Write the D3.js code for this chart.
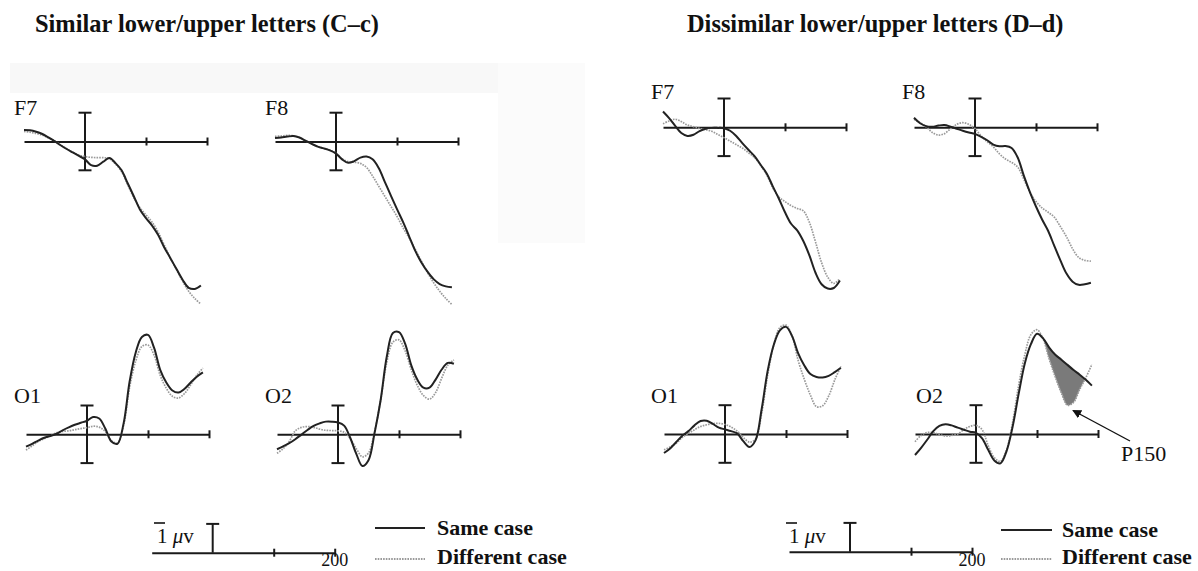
<!DOCTYPE html>
<html><head><meta charset="utf-8">
<script src="https://cdn.jsdelivr.net/npm/d3@7"></script>
<style>body{margin:0;background:#fff}svg{display:block}</style>
</head><body><svg id="c" width="1198" height="571"></svg>
<script>
// ---------------- DATA ----------------
const times = [-100,-90,-80,-70,-60,-50,-40,-30,-20,-10,0,10,20,30,40,50,60,70,80,90,100,110,120,130,140,150,160,170,180,190];
const titles = ["Similar lower/upper letters (C\u2013c)", "Dissimilar lower/upper letters (D\u2013d)"];
const channels = ["F7","F8","O1","O2"];
const legendLabels = ["Same case","Different case"];
const scaleBarNumber = "1";
const scaleBarUnit = ["\u03bc","v"];
const scaleTickValues = [100, 200];
const scaleEndLabel = "200";
const componentLabel = "P150";

// amplitudes in microvolts (negative plotted up)
const simF7Same = [-0.40,-0.39,-0.34,-0.26,-0.14,-0.01,0.13,0.26,0.38,0.50,0.62,0.82,0.84,0.70,0.57,0.75,1.0,1.45,1.90,2.36,2.66,2.92,3.25,3.68,4.05,4.43,4.80,5.08,5.12,5.0];
const simF7Diff = [-0.35,-0.32,-0.28,-0.22,-0.12,-0.02,0.12,0.25,0.38,0.47,0.52,0.55,0.56,0.56,0.60,0.78,1.05,1.50,1.95,2.30,2.55,2.80,3.15,3.60,4.05,4.45,4.85,5.20,5.45,5.65];
const simF8Same = [-0.12,-0.14,-0.17,-0.19,-0.14,-0.03,0.08,0.18,0.24,0.31,0.42,0.62,0.74,0.68,0.56,0.52,0.62,0.92,1.40,1.88,2.35,2.80,3.30,3.80,4.20,4.52,4.78,4.95,5.03,5.06];
const simF8Diff = [-0.18,-0.19,-0.21,-0.20,-0.14,-0.03,0.08,0.18,0.24,0.30,0.40,0.60,0.70,0.72,0.76,0.90,1.20,1.55,1.90,2.25,2.60,3.0,3.35,3.75,4.15,4.55,4.90,5.20,5.45,5.66];
const simO1Same = [0.43,0.33,0.22,0.12,0.06,-0.02,-0.14,-0.24,-0.33,-0.40,-0.47,-0.60,-0.55,-0.20,0.25,0.33,-0.38,-1.85,-2.85,-3.38,-3.45,-3.0,-2.24,-1.80,-1.52,-1.45,-1.58,-1.80,-2.0,-2.15];
const simO1Diff = [0.55,0.40,0.25,0.15,0.05,-0.05,-0.10,-0.12,-0.16,-0.20,-0.23,-0.28,-0.25,-0.10,0.22,0.30,-0.30,-1.65,-2.55,-3.05,-3.10,-2.75,-2.05,-1.60,-1.32,-1.26,-1.42,-1.72,-2.05,-2.30];
const simO2Same = [0.52,0.42,0.31,0.17,0.01,-0.15,-0.29,-0.38,-0.44,-0.44,-0.41,-0.30,0.12,0.68,1.10,0.90,-0.05,-1.20,-2.70,-3.52,-3.55,-3.15,-2.40,-1.90,-1.62,-1.62,-1.90,-2.25,-2.48,-2.45];
const simO2Diff = [0.66,0.50,0.25,-0.12,-0.24,-0.27,-0.24,-0.18,-0.14,-0.13,-0.12,-0.07,0.15,0.50,0.78,0.65,-0.10,-1.20,-2.50,-3.20,-3.28,-2.90,-2.25,-1.70,-1.35,-1.22,-1.45,-1.95,-2.40,-2.58];
const disF7Same = [-0.55,-0.32,-0.05,0.20,0.30,0.26,0.13,0.05,0.02,0.02,0.03,0.12,0.30,0.55,0.78,1.0,1.30,1.60,2.05,2.48,2.95,3.35,3.58,3.95,4.45,5.05,5.45,5.60,5.58,5.32];
const disF7Diff = [-0.12,-0.22,-0.28,-0.20,-0.08,-0.02,0.04,0.08,0.14,0.25,0.36,0.48,0.60,0.72,0.88,1.05,1.32,1.65,2.10,2.42,2.58,2.72,2.82,2.90,3.30,3.98,4.70,5.20,5.42,5.25];
const disF8Same = [-0.33,-0.14,-0.04,-0.02,-0.06,-0.08,-0.02,0.05,0.12,0.18,0.23,0.33,0.45,0.60,0.66,0.65,0.72,1.05,1.68,2.25,2.75,3.20,3.60,4.12,4.62,5.08,5.36,5.47,5.45,5.40];
const disF8Diff = [-0.28,-0.16,-0.02,0.18,0.27,0.22,0.05,-0.10,-0.16,-0.10,0.05,0.30,0.50,0.68,0.92,1.10,1.22,1.38,1.80,2.25,2.58,2.80,2.95,3.12,3.45,3.80,4.22,4.52,4.62,4.65];
const disO1Same = [0.66,0.50,0.28,0.06,-0.10,-0.30,-0.45,-0.46,-0.35,-0.22,-0.16,-0.10,-0.02,0.25,0.45,0.22,-0.85,-2.20,-3.10,-3.60,-3.72,-3.40,-2.80,-2.38,-2.08,-1.98,-1.96,-2.02,-2.15,-2.30];
const disO1Diff = [0.55,0.45,0.32,0.12,-0.02,-0.15,-0.26,-0.32,-0.36,-0.37,-0.33,-0.24,-0.10,0.12,0.28,0.18,-0.70,-2.05,-3.10,-3.70,-3.78,-3.40,-2.55,-1.90,-1.35,-0.95,-0.98,-1.32,-1.88,-2.35];
const disO2Same = [0.73,0.48,0.20,-0.10,-0.28,-0.34,-0.30,-0.22,-0.15,-0.08,-0.04,0.15,0.55,0.92,1.02,0.60,-0.25,-1.40,-2.45,-3.12,-3.48,-3.32,-3.00,-2.75,-2.58,-2.40,-2.22,-2.06,-1.88,-1.68];
const disO2Diff = [0.27,0.05,-0.05,-0.05,0.02,0.07,0.05,0.0,-0.15,-0.26,-0.30,-0.15,0.40,0.82,0.95,0.55,-0.40,-1.70,-2.75,-3.45,-3.62,-3.30,-2.60,-1.98,-1.42,-1.00,-1.10,-1.55,-1.95,-2.42];
const shadeRange = [105, 177];

// ---------------- LAYOUT ----------------
const PX100 = 61, PXUV = 28.8;
const serif = "'Liberation Serif','Times New Roman',serif";
const panels = [
  {ch:0, same:simF7Same, diff:simF7Diff, x0:85,  y0:141.5, lx:14,  ly:115},
  {ch:1, same:simF8Same, diff:simF8Diff, x0:336, y0:141.5, lx:265, ly:115},
  {ch:2, same:simO1Same, diff:simO1Diff, x0:87,  y0:434.3, lx:14,  ly:402.7},
  {ch:3, same:simO2Same, diff:simO2Diff, x0:338, y0:434.3, lx:265, ly:402.7},
  {ch:0, same:disF7Same, diff:disF7Diff, x0:724, y0:127.3, lx:651, ly:99.3},
  {ch:1, same:disF8Same, diff:disF8Diff, x0:975, y0:127.3, lx:902, ly:99.3},
  {ch:2, same:disO1Same, diff:disO1Diff, x0:725, y0:434,   lx:651, ly:402.7},
  {ch:3, same:disO2Same, diff:disO2Diff, x0:976, y0:434,   lx:916, ly:402.7, shade:true}
];

const svg = d3.select("#c");
// faint scan background
svg.append("rect").attr("x",10).attr("y",63).attr("width",575).attr("height",30).attr("fill","#f8f8f8");
svg.append("rect").attr("x",498).attr("y",63).attr("width",87).attr("height",180).attr("fill","#fbfbfb");

// titles
svg.append("text").attr("x",35).attr("y",32).text(titles[0])
  .attr("font-family",serif).attr("font-weight","bold").attr("font-size",24.4).attr("fill","#111");
svg.append("text").attr("x",687).attr("y",32).text(titles[1])
  .attr("font-family",serif).attr("font-weight","bold").attr("font-size",24.4).attr("fill","#111");

function hAxis(g, x, y0){
  const ax = g.append("g").attr("transform",`translate(0,${y0})`)
    .call(d3.axisBottom(x).tickValues(scaleTickValues).tickSizeOuter(0).tickSize(0).tickFormat(""));
  ax.select(".domain").attr("stroke","#1a1a1a").attr("stroke-width",2);
  ax.selectAll(".tick line").attr("y1",-4).attr("y2",4).attr("stroke","#1a1a1a").attr("stroke-width",2);
  return ax;
}

panels.forEach(p=>{
  const g = svg.append("g");
  const x = d3.scaleLinear().domain([-100,200]).range([p.x0-PX100, p.x0+2*PX100]);
  const y = d3.scaleLinear().domain([-1,1]).range([p.y0-PXUV, p.y0+PXUV]);
  const line = d3.line().x((d,i)=>x(times[i])).y(d=>y(d)).curve(d3.curveCatmullRom.alpha(0.5));

  if(p.shade){
    const idx = times.map((t,i)=>i).filter(i=>times[i]>=90 && times[i]<=190);
    const area = d3.area().x(i=>x(times[i])).y0(i=>y(p.same[i])).y1(i=>y(p.diff[i])).curve(d3.curveCatmullRom.alpha(0.5));
    svg.append("clipPath").attr("id","shclip").append("rect")
      .attr("x",x(shadeRange[0])).attr("y",0).attr("width",x(shadeRange[1])-x(shadeRange[0])).attr("height",571);
    g.append("path").attr("d",area(idx)).attr("fill","#7a7a7a").attr("clip-path","url(#shclip)");
  }

  hAxis(g, x, p.y0);
  g.append("line").attr("x1",x(0)).attr("x2",x(0)).attr("y1",y(-1)).attr("y2",y(1)).attr("stroke","#1a1a1a").attr("stroke-width",2);
  [-1,1].forEach(v=>g.append("line").attr("x1",x(0)-6.5).attr("x2",x(0)+6.5).attr("y1",y(v)).attr("y2",y(v)).attr("stroke","#1a1a1a").attr("stroke-width",2));

  g.append("path").attr("d",line(p.diff)).attr("fill","none").attr("stroke","#9a9a9a").attr("stroke-width",1.7).attr("stroke-dasharray","1.6,1.1");
  g.append("path").attr("d",line(p.same)).attr("fill","none").attr("stroke","#222").attr("stroke-width",2);

  g.append("text").attr("x",p.lx).attr("y",p.ly).text(channels[p.ch])
    .attr("font-family",serif).attr("font-size",22).attr("fill","#111");
});

// P150 annotation
svg.append("defs").append("marker").attr("id","ah").attr("viewBox","0 0 10 10").attr("refX",9).attr("refY",5)
  .attr("markerWidth",9).attr("markerHeight",9).attr("orient","auto-start-reverse").attr("markerUnits","userSpaceOnUse")
  .append("path").attr("d","M0,0L10,5L0,10z").attr("fill","#111");
svg.append("line").attr("x1",1130).attr("y1",441).attr("x2",1073).attr("y2",410.5)
  .attr("stroke","#111").attr("stroke-width",1.4).attr("marker-end","url(#ah)");
svg.append("text").attr("x",1121).attr("y",461).text(componentLabel)
  .attr("font-family",serif).attr("font-size",22).attr("fill","#111");

// scale bars + legends
const legends = [
  {x0:212.7, y0:552.7, tx:157, lineX:[375,425], ySame:528, yDiff:559, textX:437},
  {x0:850,   y0:551.7, tx:789, lineX:[1001,1052], ySame:530, yDiff:559, textX:1062}
];
legends.forEach(L=>{
  const g = svg.append("g");
  const x = d3.scaleLinear().domain([-100,200]).range([L.x0-PX100, L.x0+2*PX100]);
  const y = d3.scaleLinear().domain([-1,1]).range([L.y0-PXUV, L.y0+PXUV]);
  hAxis(g, x, L.y0);
  g.append("line").attr("x1",x(0)).attr("x2",x(0)).attr("y1",y(-1)).attr("y2",y(0)).attr("stroke","#1a1a1a").attr("stroke-width",2);
  g.append("line").attr("x1",x(0)-6.5).attr("x2",x(0)+6.5).attr("y1",y(-1)).attr("y2",y(-1)).attr("stroke","#1a1a1a").attr("stroke-width",2);
  const t = g.append("text").attr("x",L.tx).attr("y",543)
    .attr("font-family",serif).attr("font-size",21).attr("fill","#111");
  t.append("tspan").text(scaleBarNumber + " ");
  t.append("tspan").attr("font-style","italic").text(scaleBarUnit[0]);
  t.append("tspan").text(scaleBarUnit[1]);
  g.append("line").attr("x1",L.tx-3).attr("x2",L.tx+8).attr("y1",523).attr("y2",523).attr("stroke","#111").attr("stroke-width",1.6);
  g.append("text").attr("x",x(200)).attr("y",566).attr("text-anchor","middle").text(scaleEndLabel)
    .attr("font-family",serif).attr("font-size",18).attr("fill","#111");
  g.append("line").attr("x1",L.lineX[0]).attr("x2",L.lineX[1]).attr("y1",L.ySame).attr("y2",L.ySame).attr("stroke","#222").attr("stroke-width",2);
  g.append("line").attr("x1",L.lineX[0]).attr("x2",L.lineX[1]).attr("y1",L.yDiff).attr("y2",L.yDiff).attr("stroke","#9a9a9a").attr("stroke-width",1.8).attr("stroke-dasharray","1.6,1.1");
  g.append("text").attr("x",L.textX).attr("y",L.ySame+7).text(legendLabels[0])
    .attr("font-family",serif).attr("font-weight","bold").attr("font-size",22).attr("fill","#111");
  g.append("text").attr("x",L.textX).attr("y",L.yDiff+5).text(legendLabels[1])
    .attr("font-family",serif).attr("font-weight","bold").attr("font-size",22).attr("fill","#111");
});
</script></body></html>
